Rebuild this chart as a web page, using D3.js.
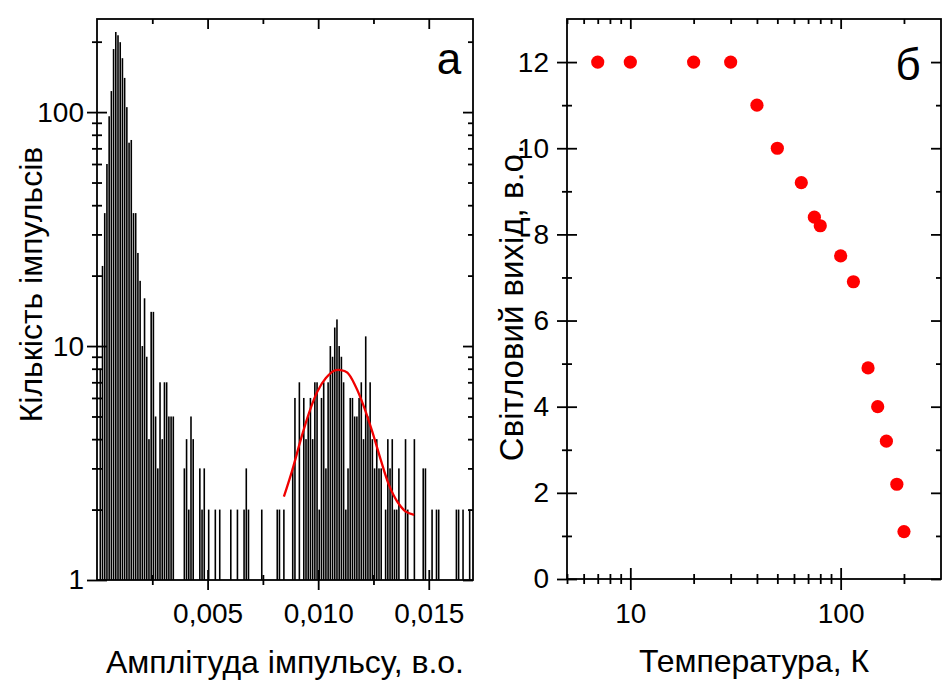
<!DOCTYPE html>
<html><head><meta charset="utf-8">
<script src="https://cdn.jsdelivr.net/npm/d3@7"></script>
<style>body{margin:0;background:#fff;} svg{display:block;font-family:Arial,"Liberation Sans",sans-serif;}</style>
</head><body><svg id="c" width="945" height="686"></svg>
<script>
// ---- Panel а : pulse amplitude histogram ----
const binWidth = 0.0001;
const binCounts = [
 0, 8, 22, 37, 60, 96, 123, 186, 220, 213,
 199, 170, 140, 105, 74, 76, 37, 37, 25, 19,
 10, 16, 9, 4, 14, 14, 5, 3, 7, 4,
 7, 7, 5, 5, 5, 0, 0, 0, 0, 3,
 4, 2, 5, 4, 0, 0, 3, 2, 3, 0,
 2, 0, 0, 2, 0, 2, 0, 0, 0, 0,
 2, 0, 0, 2, 0, 0, 2, 3, 2, 0,
 0, 0, 0, 0, 2, 0, 0, 0, 0, 0,
 0, 2, 2, 0, 2, 0, 0, 0, 3, 6,
 0, 7, 0, 6, 4, 5, 6, 4, 7, 7,
 2, 6, 7, 3, 7, 10, 9, 12, 13, 10,
 9, 7, 2, 3, 6, 6, 5, 5, 6, 7,
 4, 11, 5, 7, 4, 3, 4, 3, 3, 0,
 2, 4, 3, 4, 2, 2, 3, 0, 0, 4,
 2, 0, 0, 4, 0, 0, 0, 3, 3, 0,
 0, 2, 0, 2, 2, 0, 0, 0, 0, 0,
 0, 0, 2, 2, 0, 2, 0, 0, 2, 0
];
// Gaussian fit curve
const fitAmplitude = [0.00845,0.00883,0.00921,0.00958,0.00996,0.01034,0.01072,0.01102,0.01132,0.01170,0.01207,0.01245,0.01283,0.01320,0.01358,0.01396,0.01434];
const fitCount     = [2.27,2.95,3.97,5.16,6.38,7.28,7.84,7.89,7.69,6.70,5.50,4.30,3.26,2.55,2.16,1.96,1.90];
const xTicksA = [0.005, 0.010, 0.015];
const xTickLabelsA = ["0,005", "0,010", "0,015"];
const xMinorA = [0.0025, 0.0075, 0.0125];
const yTicksA = [1, 10, 100];
const yMinorA = [2,3,4,5,6,7,8,9,20,30,40,50,60,70,80,90,200];

// ---- Panel б : light output vs temperature ----
const temperature = [7, 10, 20, 30, 40, 50, 65, 75, 80, 100, 115, 135, 150, 165, 185, 200];
const lightOutput = [12, 12, 12, 12, 11, 10, 9.2, 8.4, 8.2, 7.5, 6.9, 4.9, 4.0, 3.2, 2.2, 1.1];
const xTicksB = [10, 100];
const xMinorB = [5,6,7,8,9,20,30,40,50,60,70,80,90,200];
const yTicksB = [0, 2, 4, 6, 8, 10, 12];
const yMinorB = [1, 3, 5, 7, 9, 11];

const svg = d3.select("#c");
const SW = 1.8;
const TICK_FS = 28;

function styleAxis(g, fs) {
  g.attr("font-family", null).attr("font-size", fs);
  g.select(".domain").remove();
  g.selectAll(".tick line").attr("stroke", "#000").attr("stroke-width", SW);
  g.selectAll(".tick text").attr("fill", "#000");
}
function bottomAxis(scale, y, vals, len, cross, fmt, pad) {
  const g = svg.append("g").attr("transform", `translate(0,${y})`)
    .call(d3.axisBottom(scale).tickValues(vals).tickSize(len).tickPadding(pad || 0).tickFormat(fmt || (() => "")));
  styleAxis(g, TICK_FS);
  g.selectAll(".tick line").attr("y1", -len).attr("y2", cross ? len : 0);
  return g;
}
function topAxis(scale, y, vals, len) {
  const g = svg.append("g").attr("transform", `translate(0,${y})`)
    .call(d3.axisTop(scale).tickValues(vals).tickSize(len).tickFormat(() => ""));
  styleAxis(g, TICK_FS);
  g.selectAll(".tick line").attr("y1", 0).attr("y2", len);
}
function leftAxis(scale, x, vals, len, fmt, pad) {
  const g = svg.append("g").attr("transform", `translate(${x},0)`)
    .call(d3.axisLeft(scale).tickValues(vals).tickSize(len).tickPadding(pad || 0).tickFormat(fmt || (() => "")));
  styleAxis(g, TICK_FS);
  g.selectAll(".tick line").attr("x1", len).attr("x2", -len);
}
function rightAxis(scale, x, vals, len) {
  const g = svg.append("g").attr("transform", `translate(${x},0)`)
    .call(d3.axisRight(scale).tickValues(vals).tickSize(len).tickFormat(() => ""));
  styleAxis(g, TICK_FS);
  g.selectAll(".tick line").attr("x1", 0).attr("x2", -len);
}

// ================= Panel а =================
const A = {l: 97, r: 473, t: 19, b: 580};
const xA = d3.scaleLinear().domain([0, 0.017]).range([A.l, A.r]);
const yA = d3.scaleLog().domain([1, 250]).range([A.b, A.t]);

const bins = binCounts.map((c, i) => ({x0: i * binWidth, c}));
svg.append("g").selectAll("rect").data(bins.filter(d => d.c > 1)).join("rect")
  .attr("x", d => xA(d.x0) + 0.3)
  .attr("width", d => (xA(d.x0 + binWidth) - xA(d.x0)) * 0.72)
  .attr("y", d => yA(d.c))
  .attr("height", d => yA(1) - yA(d.c))
  .attr("fill", "#000");

const fitPts = fitAmplitude.map((x, i) => [x, fitCount[i]]);
svg.append("path").datum(fitPts)
  .attr("d", d3.line().x(d => xA(d[0])).y(d => yA(d[1])).curve(d3.curveCatmullRom))
  .attr("fill", "none").attr("stroke", "#f00000").attr("stroke-width", 2.3);

svg.append("rect").attr("x", A.l).attr("y", A.t).attr("width", A.r - A.l).attr("height", A.b - A.t)
  .attr("fill", "none").attr("stroke", "#000").attr("stroke-width", SW);

bottomAxis(xA, A.b, xTicksA, 10, true, (d, i) => xTickLabelsA[i], 13);
bottomAxis(xA, A.b, xMinorA, 5, true);
topAxis(xA, A.t, xTicksA, 10);
topAxis(xA, A.t, xMinorA, 5);
leftAxis(yA, A.l, yTicksA, 10, d => String(d), 3);
leftAxis(yA, A.l, yMinorA, 5);
rightAxis(yA, A.r, yTicksA, 10);
rightAxis(yA, A.r, yMinorA, 5);

svg.append("text").attr("x", (A.l + A.r) / 2).attr("y", 673).attr("text-anchor", "middle")
  .attr("font-size", 32).text("Амплітуда імпульсу, в.о.");
svg.append("text").attr("transform", `translate(42,${(A.t + A.b) / 2 - 15}) rotate(-90)`).attr("text-anchor", "middle")
  .attr("font-size", 32).text("Кількість імпульсів");
svg.append("text").attr("x", 449).attr("y", 74).attr("text-anchor", "middle").attr("font-size", 44).text("а");

// ================= Panel б =================
const B = {l: 567, r: 941, t: 19, b: 579};
const xB = d3.scaleLog().domain([5, 300]).range([B.l, B.r]);
const yB = d3.scaleLinear().domain([0, 13]).range([B.b, B.t]);

svg.append("rect").attr("x", B.l).attr("y", B.t).attr("width", B.r - B.l).attr("height", B.b - B.t)
  .attr("fill", "none").attr("stroke", "#000").attr("stroke-width", SW);

bottomAxis(xB, B.b, xTicksB, 11, true, d => String(d), 13);
bottomAxis(xB, B.b, xMinorB, 5, true);
topAxis(xB, B.t, xTicksB, 10);
topAxis(xB, B.t, xMinorB, 5);
leftAxis(yB, B.l, yTicksB, 10, d => String(d), 8);
leftAxis(yB, B.l, yMinorB, 5);
rightAxis(yB, B.r, yTicksB, 10);
rightAxis(yB, B.r, yMinorB, 5);

svg.append("g").selectAll("circle").data(temperature.map((t, i) => [t, lightOutput[i]])).join("circle")
  .attr("cx", d => xB(d[0])).attr("cy", d => yB(d[1])).attr("r", 6.6).attr("fill", "#ff0000");

svg.append("text").attr("x", (B.l + B.r) / 2).attr("y", 672).attr("text-anchor", "middle")
  .attr("font-size", 32).text("Температура, К");
svg.append("text").attr("transform", `translate(523,303) rotate(-90)`).attr("text-anchor", "middle")
  .attr("font-size", 33).text("Світловий вихід, в.о.");
svg.append("text").attr("x", 908).attr("y", 80).attr("text-anchor", "middle").attr("font-size", 44).text("б");
</script></body></html>
